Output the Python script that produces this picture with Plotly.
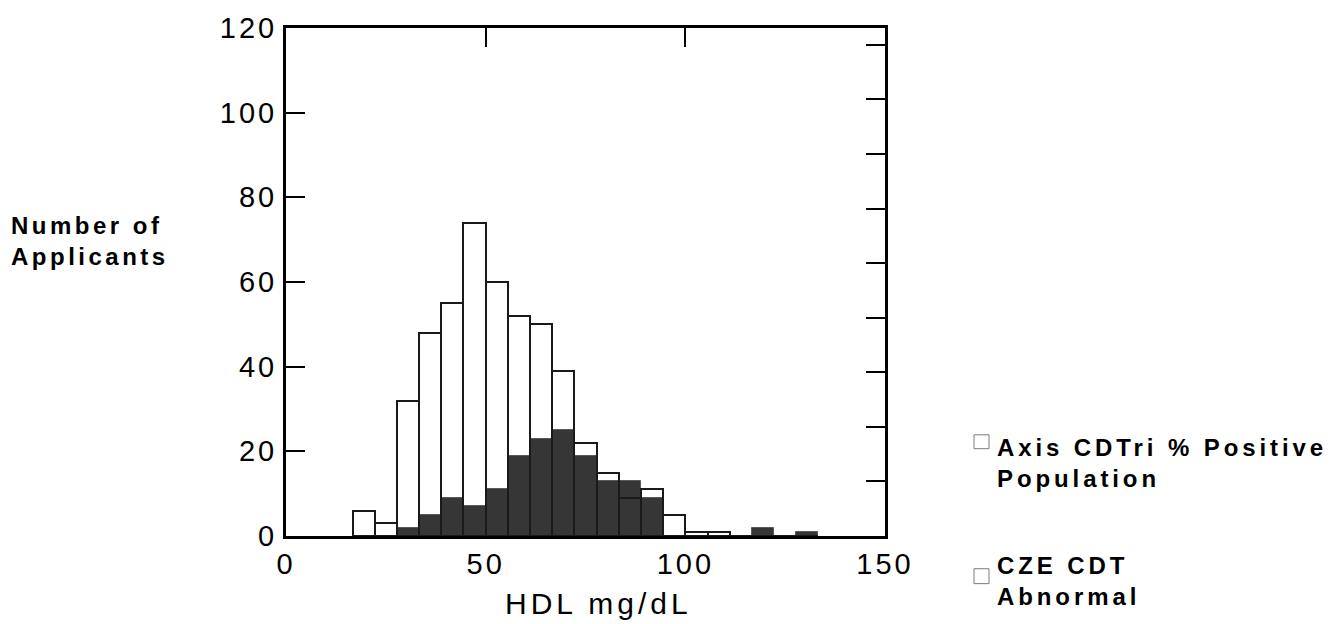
import plotly.graph_objects as go

# ---- data ----
bin_width = 150 / 27
bin_starts = [16.67, 22.22, 27.78, 33.33, 38.89, 44.44, 50.0, 55.56, 61.11, 66.67,
              72.22, 77.78, 83.33, 88.89, 94.44, 100.0, 105.56, 111.11, 116.67,
              122.22, 127.78]
population = [6, 3, 32, 48, 55, 74, 60, 52, 50, 39, 22, 15, 9, 11, 5, 1, 1, 0, 0, 0, 0]
abnormal = [0, 0, 2, 5, 9, 7, 11, 19, 23, 25, 19, 13, 13, 9, 0, 0, 0, 0, 2, 0, 1]
y_ticks = [0, 20, 40, 60, 80, 100, 120]
x_ticks = [0, 50, 100, 150]
top_ticks = [50, 100]
legend_labels = ["Axis CDTri % Positive<br>Population", "CZE CDT<br>Abnormal"]
y_title = "Number of<br>Applicants"
x_title = "HDL mg/dL"

centers = [s + bin_width / 2 for s in bin_starts]

# plot area in pixels
W, H = 1333, 624
L, R, T, B = 286, 885, 24, 536


def px(xp):
    return (xp - L) / (R - L)


def py(yp):
    return (B - yp) / (B - T)


def sp(text, s):
    return f'<span style="letter-spacing:{s}px">{text}</span>'


FONT = "Liberation Sans, Arial, sans-serif"

fig = go.Figure()
fig.add_trace(go.Bar(
    x=centers, y=abnormal, width=bin_width,
    marker=dict(color="#363636", line=dict(color="#5a5a5a", width=1)),
    showlegend=False, hoverinfo="x+y"))
fig.add_trace(go.Bar(
    x=centers, y=population, width=bin_width,
    marker=dict(color="rgba(0,0,0,0)", line=dict(color="#1a1a1a", width=2)),
    showlegend=False, hoverinfo="x+y"))
# invisible trace so the top/right frame axes get drawn
fig.add_trace(go.Scatter(
    x=[0], y=[0], xaxis="x2", yaxis="y2", mode="markers",
    marker=dict(opacity=0), showlegend=False, hoverinfo="skip"))

fig.update_layout(
    width=W, height=H,
    margin=dict(l=L, r=W - R, t=T, b=H - B, pad=0),
    paper_bgcolor="white", plot_bgcolor="white",
    barmode="overlay", bargap=0,
    font=dict(family=FONT, size=29, color="black"),
    xaxis=dict(range=[0, 150], tickvals=x_ticks,
               ticktext=[sp(str(v), 3) for v in x_ticks],
               ticks="", showgrid=False, zeroline=False,
               showline=True, linecolor="black", linewidth=3,
               ticklabelstandoff=0,
               tickfont=dict(size=29)),
    yaxis=dict(range=[0, 120], tickvals=y_ticks,
               ticktext=[sp(str(v), 3) for v in y_ticks],
               ticks="inside", ticklen=19, tickwidth=2, tickcolor="black",
               showgrid=False, zeroline=False,
               showline=True, linecolor="black", linewidth=3,
               ticklabelstandoff=0,
               tickfont=dict(size=29)),
    xaxis2=dict(overlaying="x", side="top", anchor="y", range=[0, 150],
                tickvals=top_ticks, ticks="inside", ticklen=19, tickwidth=2,
                tickcolor="black", showticklabels=False, showgrid=False,
                zeroline=False, showline=True, linecolor="black", linewidth=3),
    yaxis2=dict(overlaying="y", side="right", anchor="x", range=[0, 9.31],
                dtick=1, tick0=0, ticks="inside", ticklen=19, tickwidth=2,
                tickcolor="black", showticklabels=False, showgrid=False,
                zeroline=False, showline=True, linecolor="black", linewidth=3),
)

annos = [
    dict(text=sp(y_title, 3.5), x=px(9), y=py(239), xanchor="left", yanchor="middle",
         font=dict(size=24, family=FONT, weight="bold")),
    dict(text=sp(x_title, 4), x=px(598), y=py(604), xanchor="center", yanchor="middle",
         font=dict(size=30, family=FONT)),
    dict(text=sp(legend_labels[0], 3.9), x=px(995), y=py(462), xanchor="left",
         yanchor="middle", font=dict(size=24, family=FONT, weight="bold")),
    dict(text=sp(legend_labels[1], 3.9), x=px(995), y=py(581), xanchor="left",
         yanchor="middle", font=dict(size=24, family=FONT, weight="bold")),
]
for a in annos:
    fig.add_annotation(xref="paper", yref="paper", showarrow=False, align="left", **a)

for (y0, y1) in [(434, 448), (569, 584)]:
    fig.add_shape(type="rect", xref="paper", yref="paper",
                  x0=px(974), x1=px(989), y0=py(y1), y1=py(y0),
                  line=dict(color="#7a7a7a", width=1), fillcolor="white")

fig.write_html(
    "out.html",
    config={"displayModeBar": False},
    post_script="document.body.style.margin='0';document.body.style.overflow='hidden';",
)
